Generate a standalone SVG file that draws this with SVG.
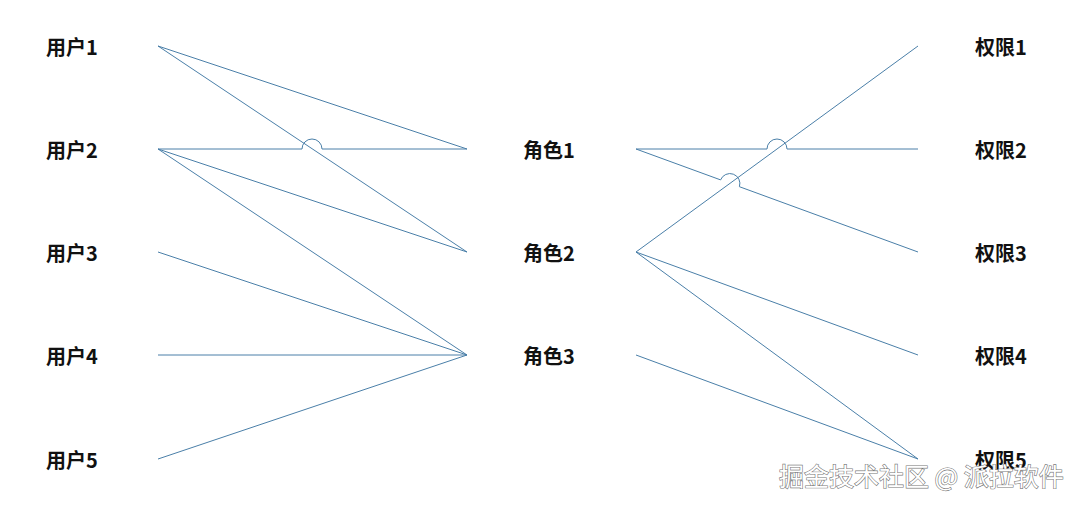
<svg xmlns="http://www.w3.org/2000/svg" width="1080" height="506" viewBox="0 0 1080 506">
<style>
.lbl{font-family:"Noto Sans CJK SC","Noto Sans",sans-serif;font-size:20px;font-weight:bold;fill:#111;dominant-baseline:central}
.ln{fill:none;stroke:#4a7fa8;stroke-width:1}
.wm{font-family:"Noto Sans CJK SC","Noto Sans",sans-serif;font-size:25px;fill:#fff;stroke:#777;stroke-width:1.2;paint-order:stroke}
</style>
<rect width="1080" height="506" fill="#fff"/>
<g id="connectors">
<path class="ln" d="M158,46 L467,252"/>
<path class="ln" d="M158,46 L467,149"/>
<path class="ln" d="M158,149 L302,149 A10,10 0 0 1 322,149 L467,149"/>
<path class="ln" d="M158,149 L467,252"/>
<path class="ln" d="M158,149 L467,355"/>
<path class="ln" d="M158,252 L467,355"/>
<path class="ln" d="M158,355 L467,355"/>
<path class="ln" d="M158,459 L467,355"/>
<path class="ln" d="M636,149 L767,149 A10,10 0 0 1 787,149 L918,149"/>
<path class="ln" d="M636,149 L720.6,179.9 A10,10 0 0 1 739.4,186.7 L918,252"/>
<path class="ln" d="M636,252 L918,46"/>
<path class="ln" d="M636,252 L918,355"/>
<path class="ln" d="M636,252 L918,459"/>
<path class="ln" d="M636,355 L918,459"/>
</g>
<g id="user1"><text class="lbl" x="46" y="46">用户1</text></g>
<g id="user2"><text class="lbl" x="46" y="149">用户2</text></g>
<g id="user3"><text class="lbl" x="46" y="252">用户3</text></g>
<g id="user4"><text class="lbl" x="46" y="355">用户4</text></g>
<g id="user5"><text class="lbl" x="46" y="459">用户5</text></g>
<g id="role1"><text class="lbl" x="523" y="149">角色1</text></g>
<g id="role2"><text class="lbl" x="523" y="252">角色2</text></g>
<g id="role3"><text class="lbl" x="523" y="355">角色3</text></g>
<g id="perm1"><text class="lbl" x="975" y="46">权限1</text></g>
<g id="perm2"><text class="lbl" x="975" y="149">权限2</text></g>
<g id="perm3"><text class="lbl" x="975" y="252">权限3</text></g>
<g id="perm4"><text class="lbl" x="975" y="355">权限4</text></g>
<g id="perm5"><text class="lbl" x="975" y="459">权限5</text></g>
<text class="wm" x="779" y="486">掘金技术社区 @ 派拉软件</text>
</svg>
